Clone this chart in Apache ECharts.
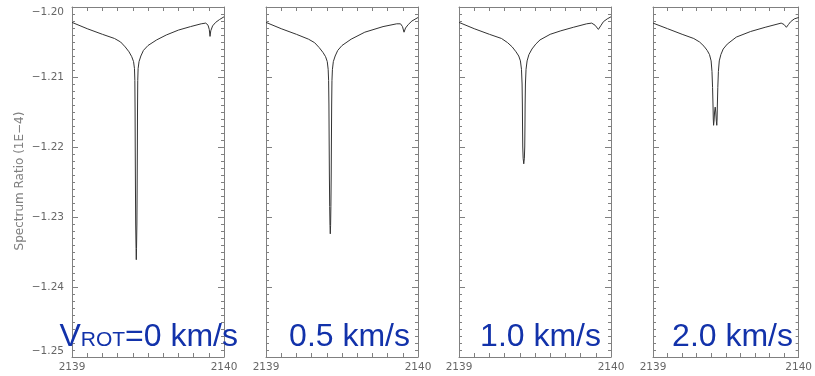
<!DOCTYPE html>
<html>
<head>
<meta charset="utf-8">
<script src="https://cdn.jsdelivr.net/npm/echarts@6/dist/echarts.min.js"></script>
<style>
  html, body { margin: 0; background: #fff; }
  #chart { width: 815px; height: 376px; }
</style>
</head>
<body>
<div id="chart"></div>
<script>
// wavelength / spectrum ratio (1E-4)
const vrot0 = [
  [2139.000, -1.2022], [2139.100, -1.2031], [2139.200, -1.2039], [2139.280, -1.2045],
  [2139.320, -1.2050], [2139.350, -1.2057], [2139.375, -1.2064], [2139.393, -1.2071],
  [2139.405, -1.2078], [2139.411, -1.2088], [2139.4135, -1.2105], [2139.415, -1.2150],
  [2139.416, -1.2200], [2139.4175, -1.2260], [2139.419, -1.2310], [2139.4215, -1.2345],
  [2139.423, -1.2361],
  [2139.4245, -1.2345], [2139.427, -1.2310], [2139.4285, -1.2260], [2139.430, -1.2200],
  [2139.431, -1.2150], [2139.4325, -1.2105], [2139.435, -1.2088], [2139.441, -1.2078],
  [2139.453, -1.2070], [2139.470, -1.2062], [2139.500, -1.2055], [2139.557, -1.2047],
  [2139.620, -1.2040], [2139.700, -1.2033], [2139.780, -1.2028], [2139.850, -1.2024],
  [2139.880, -1.2023], [2139.895, -1.2026], [2139.903, -1.2032], [2139.908, -1.2042],
  [2139.913, -1.2034], [2139.925, -1.2027], [2139.945, -1.2022], [2139.970, -1.2018],
  [2140.000, -1.2014]
];
const vrot05 = [
  [2139.000, -1.2022], [2139.100, -1.2031], [2139.200, -1.2039], [2139.280, -1.2046],
  [2139.320, -1.2051], [2139.350, -1.2058], [2139.375, -1.2065], [2139.392, -1.2071],
  [2139.403, -1.2078], [2139.409, -1.2089], [2139.412, -1.2105], [2139.414, -1.2140],
  [2139.4155, -1.2190], [2139.417, -1.2240], [2139.419, -1.2285], [2139.421, -1.2312],
  [2139.423, -1.2324],
  [2139.425, -1.2312], [2139.427, -1.2285], [2139.429, -1.2240], [2139.4305, -1.2190],
  [2139.432, -1.2140], [2139.434, -1.2105], [2139.437, -1.2089], [2139.443, -1.2078],
  [2139.455, -1.2070], [2139.472, -1.2062], [2139.500, -1.2055], [2139.560, -1.2046],
  [2139.650, -1.2036], [2139.770, -1.2028], [2139.860, -1.2024], [2139.885, -1.2024],
  [2139.898, -1.2028], [2139.908, -1.2036], [2139.918, -1.2030], [2139.936, -1.2025],
  [2139.960, -1.2020], [2140.000, -1.2015]
];
const vrot10 = [
  [2139.000, -1.2022], [2139.100, -1.2031], [2139.200, -1.2039], [2139.280, -1.2045],
  [2139.320, -1.2051], [2139.350, -1.2057], [2139.375, -1.2064], [2139.393, -1.2070],
  [2139.404, -1.2077], [2139.411, -1.2089], [2139.415, -1.2110], [2139.417, -1.2140],
  [2139.418, -1.2170], [2139.4195, -1.2200], [2139.422, -1.2216], [2139.426, -1.2224],
  [2139.430, -1.2216], [2139.4325, -1.2200], [2139.434, -1.2170], [2139.435, -1.2140],
  [2139.437, -1.2110], [2139.441, -1.2089], [2139.448, -1.2077], [2139.460, -1.2068],
  [2139.480, -1.2060], [2139.505, -1.2053], [2139.533, -1.2047], [2139.600, -1.2039],
  [2139.670, -1.2034], [2139.752, -1.2029], [2139.840, -1.2024], [2139.873, -1.2023],
  [2139.895, -1.2026], [2139.917, -1.2032], [2139.935, -1.2026], [2139.950, -1.2021],
  [2139.975, -1.2017], [2140.000, -1.2014]
];
const vrot20 = [
  [2139.000, -1.2023], [2139.100, -1.2031], [2139.200, -1.2039], [2139.280, -1.2045],
  [2139.320, -1.2050], [2139.350, -1.2056], [2139.372, -1.2062], [2139.388, -1.2068],
  [2139.399, -1.2077], [2139.405, -1.2092], [2139.409, -1.2115], [2139.412, -1.2140],
  [2139.414, -1.2160], [2139.416, -1.2169], [2139.419, -1.2163], [2139.423, -1.2150],
  [2139.427, -1.2143], [2139.431, -1.2150], [2139.435, -1.2163], [2139.438, -1.2169],
  [2139.440, -1.2160], [2139.442, -1.2140], [2139.445, -1.2115], [2139.449, -1.2092],
  [2139.455, -1.2077], [2139.466, -1.2068], [2139.482, -1.2060], [2139.510, -1.2053],
  [2139.572, -1.2043], [2139.670, -1.2035], [2139.770, -1.2029], [2139.880, -1.2023],
  [2139.900, -1.2025], [2139.916, -1.2029], [2139.930, -1.2025], [2139.945, -1.2021],
  [2139.970, -1.2017], [2140.000, -1.2015]
];

const panels = [vrot0, vrot05, vrot10, vrot20];
const speedLabels = ['=0 km/s', '0.5 km/s', '1.0 km/s', '2.0 km/s'];
const xRange = [2139, 2140];
const yRange = [-1.25, -1.20];
const yStep = 0.01;
const yName = 'Spectrum Ratio (1E\u22124)';

const gridLeft = [72, 266, 459, 653];
const labelRight = [238, 410, 601, 793];
const frameColor = '#808080';
const textColor = '#666';
const blue = '#1232aa';

const grid = [], xAxis = [], yAxis = [], series = [], graphic = [];

panels.forEach((data, i) => {
  grid.push({ left: gridLeft[i], top: 7, width: 152, height: 350 });

  // bottom + top x axes (top one only mirrors the ticks)
  ['bottom', 'top'].forEach(pos => {
    xAxis.push({
      type: 'value', gridIndex: i, position: pos,
      min: xRange[0], max: xRange[1], interval: 1,
      axisLine: { show: true, onZero: false, lineStyle: { color: frameColor, width: 1 } },
      axisTick: { show: true, inside: true, length: 4, lineStyle: { color: frameColor } },
      minorTick: { show: true, splitNumber: 10, length: 4, lineStyle: { color: frameColor } },
      axisLabel: {
        show: pos === 'bottom', margin: 5, color: textColor,
        fontFamily: 'DejaVu Sans', fontSize: 10.5,
        formatter: v => String(Math.round(v))
      },
      splitLine: { show: false }
    });
  });

  // left + right y axes, labels only on the first panel
  ['left', 'right'].forEach(pos => {
    yAxis.push({
      type: 'value', gridIndex: i, position: pos,
      min: yRange[0], max: yRange[1], interval: yStep,
      axisLine: { show: true, onZero: false, lineStyle: { color: frameColor, width: 1 } },
      axisTick: { show: true, inside: true, length: 6, lineStyle: { color: frameColor } },
      minorTick: { show: true, splitNumber: 10, length: 3, lineStyle: { color: frameColor } },
      axisLabel: {
        show: pos === 'left' && i === 0, margin: 8, color: textColor,
        fontFamily: 'DejaVu Sans', fontSize: 10.5,
        verticalAlignMinLabel: 'bottom', verticalAlignMaxLabel: 'top',
        formatter: v => v.toFixed(2).replace('-', '\u2212')
      },
      splitLine: { show: false }
    });
  });

  series.push({
    type: 'line', data: data,
    xAxisIndex: i * 2, yAxisIndex: i * 2,
    showSymbol: false, symbol: 'none', smooth: false,
    lineStyle: { color: '#333', width: 1 },
    z: 3
  });

  const txt = i === 0 ? '{v|V}{r|ROT}{v|' + speedLabels[0] + '}' : '{v|' + speedLabels[i] + '}';
  graphic.push({
    type: 'text', right: 815 - labelRight[i], top: 321, z: 100,
    style: {
      text: txt,
      fill: blue,
      fontFamily: 'Liberation Sans',
      fontSize: 32,
      rich: {
        v: { fontSize: 32, fontFamily: 'Liberation Sans', fill: blue, verticalAlign: 'bottom', lineHeight: 32 },
        r: { fontSize: 21, fontFamily: 'Liberation Sans', fill: blue, verticalAlign: 'bottom', lineHeight: 32, padding: [0, 0, 2, 0] }
      }
    }
  });
});

graphic.push({
  type: 'text', x: 20, y: 181, rotation: Math.PI / 2, z: 100,
  style: {
    text: yName, fill: '#808080', fontFamily: 'DejaVu Sans', fontSize: 12,
    align: 'center', verticalAlign: 'middle'
  }
});

const chart = echarts.init(document.getElementById('chart'), null, { renderer: 'canvas' });
chart.setOption({
  animation: false,
  backgroundColor: '#fff',
  grid, xAxis, yAxis, series, graphic
});
</script>
</body>
</html>
